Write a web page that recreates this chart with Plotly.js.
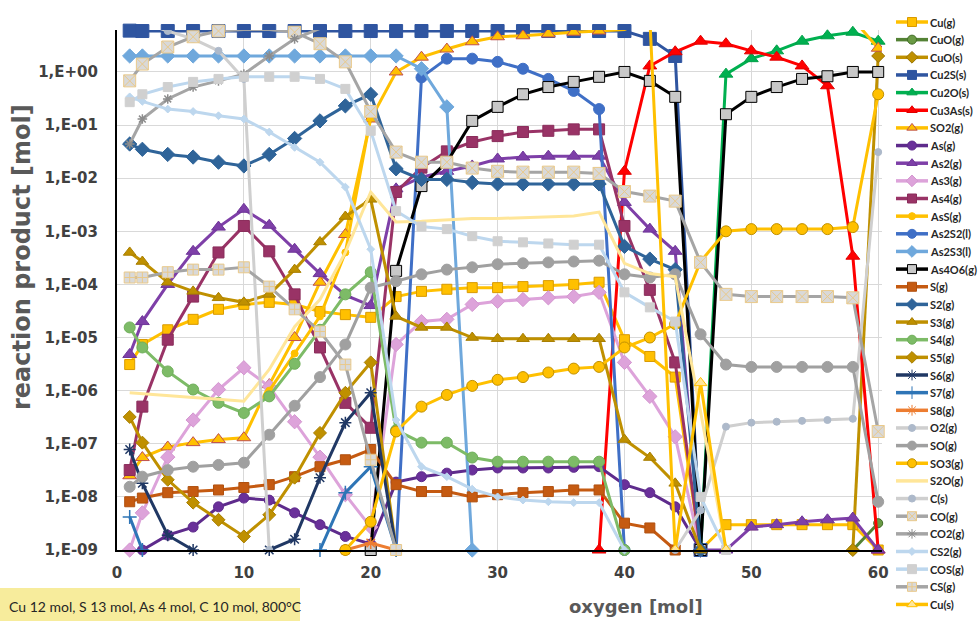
<!DOCTYPE html>
<html><head><meta charset="utf-8">
<script src="https://cdn.plot.ly/plotly-3.0.1.min.js"></script>
<style>html,body{margin:0;padding:0;background:#fff}#chart{width:978px;height:621px}</style>
</head><body><div id="chart"></div>
<script>
const n = null;
const oxygen = [1,2,4,6,8,10,12,14,16,18,20,22,24,26,28,30,32,34,36,38,40,42,44,46,48,50,52,54,56,58,60];

const Cu_g   = [3.1e-6,7.4e-6,1.4e-5,2.2e-5,3.4e-5,4.2e-5,4.6e-5,4.2e-5,3.1e-5,2.7e-5,2.4e-5,5.9e-5,7.4e-5,8.1e-5,8.7e-5,8.7e-5,9.1e-5,9.5e-5,1.0e-4,1.1e-4,9.1e-6,4.4e-6,1.8e-6,1e-9,3.0e-9,3.0e-9,3.0e-9,3.0e-9,3.0e-9,3.0e-9,1e-9];
const CuO_g  = [n,n,n,n,n,n,n,n,n,n,n,n,n,n,n,n,n,n,n,n,n,n,n,n,n,n,n,n,n,1e-9,3.2e-9];
const CuO_s  = [n,n,n,n,n,n,n,n,n,n,n,n,n,n,n,n,n,n,n,n,n,n,n,n,n,n,n,n,n,1e-9,2.0];
const Cu2S_s = [6.0,5.9,5.9,5.9,5.9,5.9,5.9,5.9,5.9,5.9,5.9,5.9,5.9,5.9,5.9,5.9,5.9,5.9,5.9,5.9,5.9,4.2,2.0,1e-9,n,n,n,n,n,n,n];
const Cu2O_s = [n,n,n,n,n,n,n,n,n,n,n,n,n,n,n,n,n,n,n,n,n,n,n,1e-9,0.91,1.78,2.5,3.8,4.8,5.6,3.8];
const Cu3As_s= [n,n,n,n,n,n,n,n,n,n,n,n,n,n,n,n,n,n,n,1e-9,1.35e-2,1.3,2.4,3.8,3.4,2.5,1.9,1.3,0.55,3.4e-4,1e-9];
const SO2_g  = [2.5e-8,5.5e-8,8.7e-8,1.05e-7,1.2e-7,1.3e-7,1.3e-6,1.0e-5,1.1e-4,8.7e-4,0.13,1.0,1.9,2.7,3.7,4.6,4.8,5.2,5.6,5.9,6.3,10,10,10,10,10,10,10,10,10,2.8];
const As_g   = [n,1e-9,1.9e-9,2.7e-9,6.5e-9,9.5e-9,8.7e-9,5.0e-9,3.0e-9,1.8e-9,1.3e-9,1.9e-8,2.4e-8,2.8e-8,3.2e-8,3.5e-8,3.5e-8,3.5e-8,3.6e-8,3.7e-8,1.7e-8,1.2e-8,6.5e-9,1e-9,n,n,n,n,n,n,n];
const As2_g  = [4.8e-6,2.0e-5,1.0e-4,4.2e-4,1.2e-3,2.6e-3,1.3e-3,4.6e-4,1.6e-4,6.3e-5,4.0e-5,6.3e-3,1.05e-2,1.35e-2,1.7e-2,2.3e-2,2.5e-2,2.6e-2,2.6e-2,2.6e-2,3.5e-3,1.1e-3,4.2e-4,1e-9,1e-9,2.7e-9,3.0e-9,3.4e-9,3.7e-9,4.0e-9,1e-9];
const As3_g  = [1e-9,5.0e-9,5.6e-8,2.8e-7,1.05e-6,2.7e-6,1.2e-6,2.6e-7,5.6e-8,1.1e-8,2.7e-9,7.4e-6,2.0e-5,2.2e-5,4.2e-5,4.8e-5,5.2e-5,5.6e-5,5.9e-5,7.1e-5,3.4e-6,7.8e-7,1.35e-7,1e-9,n,n,n,n,n,n,n];
const As4_g  = [3.2e-8,5.0e-7,9.1e-6,5.9e-5,4.0e-4,1.26e-3,4.2e-4,6.5e-5,6.5e-6,5.9e-7,2.0e-7,5.5e-3,1.58e-2,3.2e-2,4.8e-2,6.2e-2,7.4e-2,7.8e-2,8.3e-2,8.3e-2,1.26e-3,7.9e-5,3.4e-6,1e-9,n,n,n,n,n,n,n];
const AsS_g  = [n,n,n,n,n,n,1.0e-6,5.0e-6,2.5e-5,4.0e-4,0.14,n,n,n,n,n,n,n,n,n,n,n,n,n,n,n,n,n,n,n,n];
const As2S2_l= [n,n,n,n,n,n,n,n,n,n,n,1e-9,0.79,1.78,1.78,1.55,1.15,0.74,0.44,0.2,1e-9,n,n,n,n,n,n,n,n,n,n];
const As2S3_l= [2.0,2.0,2.0,2.0,2.0,2.0,2.0,2.0,2.0,2.0,2.0,2.0,1.15,0.22,1e-9,n,n,n,n,n,n,n,n,n,n,n,n,n,n,n,n];
const As4O6_g= [n,n,n,n,n,n,n,n,n,n,1e-9,1.8e-4,7.1e-3,2.0e-2,0.12,0.22,0.38,0.52,0.65,0.81,1.0,0.68,0.34,1e-9,0.16,0.34,0.52,0.74,0.83,1.0,1.0];
const S_g    = [8.1e-9,9.5e-9,1.2e-8,1.26e-8,1.35e-8,1.5e-8,1.7e-8,2.4e-8,3.7e-8,5.0e-8,7.8e-8,1.7e-8,1.26e-8,1.26e-8,1.0e-8,1.1e-8,1.2e-8,1.26e-8,1.35e-8,1.35e-8,3.2e-9,2.6e-9,1e-9,n,n,n,n,n,n,n,n];
const S2_g   = [4.4e-2,3.5e-2,2.8e-2,2.5e-2,2.0e-2,1.7e-2,2.8e-2,5.6e-2,0.12,0.23,0.38,1.5e-2,9.5e-3,9.5e-3,8.3e-3,7.8e-3,7.8e-3,7.8e-3,7.8e-3,7.8e-3,5.2e-4,3.0e-4,1.9e-4,1e-9,n,n,n,n,n,n,n];
const S3_g   = [4.0e-4,2.7e-4,1.1e-4,7.4e-5,5.6e-5,4.6e-5,6.5e-5,1.9e-4,6.3e-4,1.9e-3,4.0e-3,2.5e-5,1.55e-5,1.55e-5,1.0e-5,9.5e-6,9.5e-6,9.5e-6,9.5e-6,9.5e-6,1.2e-7,5.5e-8,1.8e-8,1e-9,n,n,n,n,n,n,n];
const S4_g   = [1.55e-5,6.5e-6,2.3e-6,1.05e-6,5.9e-7,3.8e-7,7.8e-7,3.2e-6,1.4e-5,6.5e-5,1.7e-4,1.8e-7,1.05e-7,1.05e-7,5.5e-8,4.6e-8,4.6e-8,4.6e-8,4.6e-8,4.6e-8,1e-9,n,n,n,n,n,n,n,n,n,n];
const S5_g   = [3.2e-7,1.05e-7,2.1e-8,7.8e-9,3.7e-9,1.8e-9,4.6e-9,2.3e-8,1.6e-7,9.1e-7,3.4e-6,1e-9,n,n,n,n,n,n,n,n,n,n,n,n,n,n,n,n,n,n,n];
const S6_g   = [7.8e-8,1.8e-8,1.9e-9,1e-9,n,n,1e-9,1.6e-9,2.3e-8,2.5e-7,9.1e-7,1e-9,n,n,n,n,n,n,n,n,n,n,n,n,n,n,n,n,n,n,n];
const S7_g   = [4.2e-9,1e-9,n,n,n,n,n,n,1e-9,1.2e-8,3.7e-8,1e-9,n,n,n,n,n,n,n,n,n,n,n,n,n,n,n,n,n,n,n];
const S8_g   = [n,n,n,n,n,n,n,n,n,1e-9,1.35e-9,1e-9,n,n,n,n,n,n,n,n,n,n,n,n,n,n,n,n,n,n,n];
const O2_g   = [n,n,n,n,n,n,n,n,n,n,n,n,n,n,n,n,n,n,n,n,n,n,1e-9,5.6e-9,2.1e-7,2.5e-7,2.6e-7,2.7e-7,2.8e-7,2.95e-7,3.1e-2];
const SO_g   = [1.55e-8,2.4e-8,3.2e-8,3.7e-8,4.0e-8,4.4e-8,1.48e-7,5.2e-7,1.8e-6,7.4e-6,8.7e-5,1.15e-4,1.55e-4,1.9e-4,2.1e-4,2.4e-4,2.5e-4,2.6e-4,2.7e-4,2.8e-4,1.55e-4,1.35e-4,1.55e-4,1.15e-5,3.1e-6,2.8e-6,2.8e-6,2.8e-6,2.8e-6,2.8e-6,8.1e-9];
const SO3_g  = [n,n,n,n,n,n,n,n,n,1e-9,3.4e-9,1.7e-7,5.0e-7,8.3e-7,1.23e-6,1.6e-6,1.8e-6,2.2e-6,2.6e-6,2.8e-6,6.5e-6,1.0e-5,1.8e-5,2.7e-4,1.0e-3,1.1e-3,1.1e-3,1.1e-3,1.1e-3,1.2e-3,0.38];
const S2O_g  = [9.1e-7,8.7e-7,7.9e-7,7.4e-7,6.9e-7,6.3e-7,2.5e-6,1.6e-5,5.2e-5,4.0e-4,5.5e-3,1.5e-3,1.55e-3,1.66e-3,1.74e-3,1.74e-3,1.8e-3,1.9e-3,1.95e-3,2.3e-3,2.5e-4,1.6e-4,1.4e-4,4.0e-7,1e-9,n,n,n,n,n,n];
const C_s    = [9.5,8.5,5.9,4.2,2.5,0.74,1e-9,n,n,n,n,n,n,n,n,n,n,n,n,n,n,n,n,n,n,n,n,n,n,n,n];
const CO_g   = [0.68,1.41,2.95,4.6,5.9,6.3,6.3,5.6,3.4,1.55,0.18,3.1e-2,2.0e-2,2.0e-2,1.55e-2,1.35e-2,1.3e-2,1.3e-2,1.3e-2,1.23e-2,5.6e-3,4.6e-3,3.7e-3,2.6e-4,6.5e-5,5.9e-5,5.9e-5,5.9e-5,5.9e-5,5.6e-5,1.7e-7];
const CO2_g  = [4.4e-2,0.13,0.31,0.52,0.68,0.91,2.0,4.2,6.6,8.4,9.8,9.8,9.8,9.8,9.8,9.8,9.8,9.8,9.8,9.8,9.8,9.8,9.8,9.8,9.8,9.8,9.8,9.8,9.8,9.8,9.8];
const CS2_g  = [0.34,0.28,0.2,0.18,0.15,0.13,7.4e-2,3.8e-2,2.0e-2,6.8e-3,4.6e-4,2.8e-7,3.7e-8,2.4e-8,1.4e-8,1.0e-8,8.7e-9,8.1e-9,7.8e-9,7.8e-9,1e-9,n,n,n,n,n,n,n,n,n,n];
const COS_g  = [0.27,0.38,0.52,0.65,0.74,0.81,0.81,0.81,0.74,0.48,7.8e-2,2.4e-3,1.23e-3,1.1e-3,8.1e-4,6.5e-4,6.2e-4,5.9e-4,5.6e-4,5.6e-4,7.1e-5,3.7e-5,2.0e-5,1.0e-8,1e-9,n,n,n,n,n,n];
const CS_g   = [1.35e-4,1.35e-4,1.7e-4,1.9e-4,1.9e-4,2.1e-4,9.1e-5,3.4e-5,1.3e-5,3.1e-6,5.0e-8,1e-9,n,n,n,n,n,n,n,n,n,n,n,n,n,n,n,n,n,n,n];
const Cu_s   = [n,n,n,n,n,n,n,n,n,n,n,n,n,n,n,n,n,n,n,n,n,10,1e-9,1.4e-6,1e-9,n,n,n,n,n,n];

const seriesNames = ['Cu(g)','CuO(g)','CuO(s)','Cu2S(s)','Cu2O(s)','Cu3As(s)','SO2(g)','As(g)','As2(g)','As3(g)','As4(g)','AsS(g)','As2S2(l)','As2S3(l)','As4O6(g)','S(g)','S2(g)','S3(g)','S4(g)','S5(g)','S6(g)','S7(g)','S8(g)','O2(g)','SO(g)','SO3(g)','S2O(g)','C(s)','CO(g)','CO2(g)','CS2(g)','COS(g)','CS(g)','Cu(s)'];
const seriesData = [Cu_g,CuO_g,CuO_s,Cu2S_s,Cu2O_s,Cu3As_s,SO2_g,As_g,As2_g,As3_g,As4_g,AsS_g,As2S2_l,As2S3_l,As4O6_g,S_g,S2_g,S3_g,S4_g,S5_g,S6_g,S7_g,S8_g,O2_g,SO_g,SO3_g,S2O_g,C_s,CO_g,CO2_g,CS2_g,COS_g,CS_g,Cu_s];

const yTickVals = [1e-9,1e-8,1e-7,1e-6,1e-5,1e-4,1e-3,1e-2,1e-1,1];
const yTickText = ['1,E-09','1,E-08','1,E-07','1,E-06','1,E-05','1,E-04','1,E-03','1,E-02','1,E-01','1,E+00'];
const xTickVals = [0,10,20,30,40,50,60];

// styles: [lineColor, symbol, markerFill, markerLine, size, clip]
const styles = [
 ['#FFC000','square','#FFC000','#D99A00',10,false],
 ['#548235','circle','#6A9A45','#3E6B23',9,false],
 ['#BF9000','diamond','#BF9000','#9A7400',10,false],
 ['#2F55A0','square','#2F55A0','#2F55A0',13,false],
 ['#00B050','triangle-up','#00B050','#00A048',12,false],
 ['#FF0000','triangle-up','#FF0000','#E00000',12,false],
 ['#FFC000','triangle-up','#FFC000','#C0504D',12,true],
 ['#5E2B8C','circle','#6A309A','#5E2B8C',10,false],
 ['#7E3FA8','triangle-up','#7E3FA8','#6E3598',12,false],
 ['#DDA3DA','diamond','#DDA3DA','#D496D0',11,false],
 ['#993366','square','#993366','#8A2D5B',11,false],
 ['#FFC000','circle','#FFC000','#FFC000',7,false],
 ['#3F6FC6','circle','#3F6FC6','#3F6FC6',11,false],
 ['#6FA8DC','diamond','#6FA8DC','#6FA8DC',11,false],
 ['#000000','square','#C8C8C8','#000000',11,false],
 ['#C55A11','square','#C55A11','#B0500F',10,false],
 ['#2F6499','diamond','#2F6499','#2F6499',11,false],
 ['#BF9000','triangle-up','#BF9000','#A87E00',11,false],
 ['#7DBB67','circle','#7DBB67','#6FAE5A',11,false],
 ['#BF9000','diamond','#BF9000','#A87E00',10,false],
 ['#203864','asterisk-open','#203864','#203864',10,false],
 ['#2E75B6','cross-thin-open','#2E75B6','#2E75B6',10,false],
 ['#ED7D31','asterisk-open','#ED7D31','#ED7D31',10,false],
 ['#CFCFCF','circle','#ADB9CA','#ADB9CA',7,false],
 ['#A0A0A0','circle','#A0A0A0','#A0A0A0',11,false],
 ['#FFC000','circle','#FFC000','#C09000',11,false],
 ['#FFE699',null,null,null,0,false],
 ['#CFCFCF','circle','#ADB9CA','#ADB9CA',7,true],
 ['#A5A5A5','square-x','#D9D9D9','#E9C98A',12,false],
 ['#A5A5A5','asterisk-open','#8C8C8C','#8C8C8C',8,true],
 ['#BDD7EE','diamond','#BDD7EE','#BDD7EE',6,false],
 ['#BDD7EE','square','#D0D0D0','#D0D0D0',9,false],
 ['#A5A5A5','square-cross','#D9D9D9','#E9C98A',11,false],
 ['#FFC000','triangle-up','#FFE699','#FFC000',11,true]
];

const traces = [];
seriesNames.forEach((name,i)=>{
  const s = styles[i];
  const t = {type:'scatter', x: oxygen, y: seriesData[i], name: name,
    mode: s[1] ? 'lines+markers' : 'lines',
    line:{color:s[0], width:3}, connectgaps:false, cliponaxis:s[5],
    showlegend:false, hoverinfo:'skip'};
  if (s[1]) t.marker = {symbol:s[1], size:s[4], color:s[2], line:{color:s[3], width:(s[1].indexOf('open')>=0?1.5:1)}};
  traces.push(t);
});
// legend samples
const legendLabels = [];
seriesNames.forEach((name,i)=>{
  const s = styles[i];
  const t = {type:'scatter', x:[2,18,34], y:[i,i,i], xaxis:'x2', yaxis:'y2',
    mode: s[1] ? 'lines+markers' : 'lines', line:{color:s[0], width:3.5},
    showlegend:false, hoverinfo:'skip', cliponaxis:false};
  if (s[1]) t.marker = {symbol:s[1], size:Math.min(s[4],9), color:s[2], opacity:[0,1,0], line:{color:s[3], width:1}};
  traces.push(t);
  legendLabels.push({xref:'x2', yref:'y2', x:34, y:i, text:name, showarrow:false, xanchor:'left', yanchor:'middle',
    font:{family:'Lato, sans-serif', size:11, color:'#262626', weight:'bold'}});
});

const tickFont = {family:'DejaVu Sans, sans-serif', size:15, color:'#404040', weight:'bold'};
const layout = {
  width:978, height:621, margin:{l:0,r:0,t:0,b:0},
  paper_bgcolor:'#ffffff', plot_bgcolor:'#ffffff', showlegend:false,
  xaxis:{domain:[117/978, 882/978], range:[0,60.3], tickmode:'array', tickvals:xTickVals,
    showgrid:true, gridcolor:'#D9D9D9', gridwidth:1, zeroline:false, showline:true, linecolor:'#000', linewidth:2,
    ticks:'', tickfont:tickFont, ticklabelstandoff:8, fixedrange:true},
  yaxis:{domain:[1-550/621, 1-30/621], type:'log', range:[-9,0.79], tickmode:'array', tickvals:yTickVals, ticktext:yTickText,
    showgrid:true, gridcolor:'#D9D9D9', gridwidth:1, zeroline:false, showline:true, linecolor:'#000', linewidth:2,
    ticks:'', tickfont:tickFont, ticklabelstandoff:14, fixedrange:true},
  xaxis2:{domain:[894/978,1], range:[0,84], visible:false, anchor:'y2', fixedrange:true},
  yaxis2:{domain:[0,1], range:[(621-22)/17.65, -22/17.65], visible:false, anchor:'x2', fixedrange:true},
  shapes:[{type:'rect', xref:'paper', yref:'paper', x0:0, x1:300/978, y0:0, y1:33/621, fillcolor:'#F7EC9C', line:{width:0}, layer:'below'}],
  annotations: legendLabels.concat([
    {xref:'paper', yref:'paper', x:22/978, y:1-257/621, text:'reaction product [mol]', textangle:-90, showarrow:false,
      xanchor:'center', yanchor:'middle', font:{family:'DejaVu Sans, sans-serif', size:24, color:'#595959', weight:'bold'}},
    {xref:'paper', yref:'paper', x:636/978, y:1-606/621, text:'oxygen [mol]', showarrow:false,
      xanchor:'center', yanchor:'middle', font:{family:'DejaVu Sans, sans-serif', size:18, color:'#595959', weight:'bold'}},
    {xref:'paper', yref:'paper', x:7/978, y:1-606/621, text:'Cu 12 mol, S 13 mol, As 4 mol, C 10 mol, 800°C', showarrow:false,
      xanchor:'left', yanchor:'middle', font:{family:'Lato, sans-serif', size:14, color:'#262626'}}
  ])
};
Plotly.newPlot('chart', traces, layout, {staticPlot:true, displayModeBar:false});
</script>
</body></html>
